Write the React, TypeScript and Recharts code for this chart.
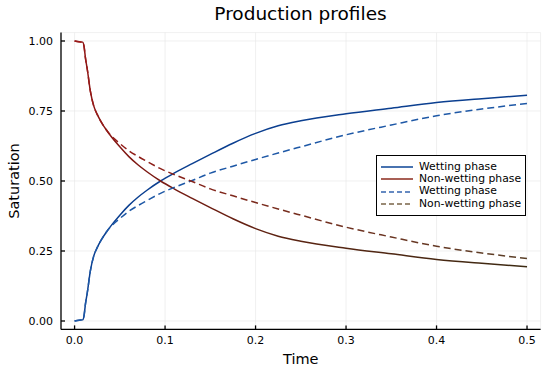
import React from 'react';
import { LineChart, Line, XAxis, YAxis, CartesianGrid, Legend } from 'recharts';

const times = [0, 0.005, 0.009, 0.0105, 0.012, 0.014, 0.0175, 0.021, 0.025, 0.03, 0.035, 0.04, 0.05, 0.06, 0.07, 0.08, 0.095, 0.11, 0.13, 0.15, 0.175, 0.2, 0.225, 0.25, 0.3, 0.35, 0.4, 0.45, 0.5];
const wettingA = [0, 0.003, 0.004, 0.02, 0.06, 0.10, 0.18, 0.23, 0.262, 0.292, 0.317, 0.339, 0.378, 0.413, 0.442, 0.467, 0.50, 0.528, 0.562, 0.595, 0.635, 0.670, 0.697, 0.715, 0.740, 0.760, 0.780, 0.794, 0.806];
const nonWettingA = [1, 0.997, 0.996, 0.98, 0.94, 0.90, 0.82, 0.77, 0.738, 0.708, 0.683, 0.661, 0.622, 0.587, 0.558, 0.533, 0.50, 0.472, 0.438, 0.405, 0.365, 0.330, 0.303, 0.285, 0.260, 0.240, 0.220, 0.206, 0.194];
const wettingB = [0, 0.003, 0.004, 0.02, 0.06, 0.10, 0.18, 0.23, 0.262, 0.292, 0.317, 0.337, 0.366, 0.392, 0.412, 0.43, 0.456, 0.477, 0.502, 0.528, 0.553, 0.577, 0.60, 0.622, 0.665, 0.70, 0.733, 0.757, 0.777];
const nonWettingB = [1, 0.997, 0.996, 0.98, 0.94, 0.90, 0.82, 0.77, 0.738, 0.708, 0.683, 0.663, 0.634, 0.608, 0.588, 0.57, 0.544, 0.523, 0.498, 0.472, 0.447, 0.423, 0.40, 0.378, 0.335, 0.30, 0.267, 0.243, 0.223];

const xTicks = [0, 0.1, 0.2, 0.3, 0.4, 0.5];
const yTicks = [0, 0.25, 0.5, 0.75, 1];
const seriesNames = ['Wetting phase', 'Non-wetting phase', 'Wetting phase', 'Non-wetting phase'];

const data = times.map((t, i) => ({
  t,
  wA: wettingA[i],
  nA: nonWettingA[i],
  wB: wettingB[i],
  nB: nonWettingB[i],
}));

const FONT = '"DejaVu Sans", sans-serif';

const legendItems = [
  { name: seriesNames[0], color: '#0b4596', dash: undefined },
  { name: seriesNames[1], color: '#8b2a1c', dash: undefined },
  { name: seriesNames[2], color: '#3464ae', dash: '5 3' },
  { name: seriesNames[3], color: '#7a6448', dash: '5 3' },
];

const LegendBox = () => (
  <div style={{ border: '1px solid #000', background: '#fff', padding: '5px 4px 5px 4px', fontFamily: FONT, fontSize: 10.8, lineHeight: '12.2px', color: '#000' }}>
    {legendItems.map((it, i) => (
      <div key={i} style={{ display: 'flex', alignItems: 'center', whiteSpace: 'nowrap' }}>
        <svg width={32} height={8} style={{ marginRight: 6 }}>
          <line x1={0} y1={4} x2={32} y2={4} stroke={it.color} strokeWidth={1.5} strokeDasharray={it.dash} />
        </svg>
        <span>{it.name}</span>
      </div>
    ))}
  </div>
);

export default function App() {
  return (
    <div style={{ position: 'absolute', left: 0, top: 0, width: 550, height: 373, background: '#fff' }}>
      <div style={{ position: 'absolute', left: 0, top: 3, width: 550, textAlign: 'center', paddingLeft: 51, boxSizing: 'border-box', fontFamily: FONT, fontSize: 18.5, color: '#000' }}>
        Production profiles
      </div>
      <LineChart width={550} height={373} data={data} margin={{ top: 32.6, right: 9.4, bottom: 13.6, left: 11 }}>
        <defs>
          <linearGradient id="gradNA" x1="0" y1="0" x2="1" y2="0">
            <stop offset="0%" stopColor="#8e1414" />
            <stop offset="45%" stopColor="#5c2312" />
            <stop offset="100%" stopColor="#3c2a12" />
          </linearGradient>
          <linearGradient id="gradNB" x1="0" y1="0" x2="1" y2="0">
            <stop offset="0%" stopColor="#9a1818" />
            <stop offset="40%" stopColor="#7a2a1c" />
            <stop offset="100%" stopColor="#5a4028" />
          </linearGradient>
        </defs>
        <CartesianGrid stroke="#e6e6e6" strokeWidth={0.6} />
        <XAxis
          dataKey="t"
          type="number"
          domain={[-0.015, 0.515]}
          ticks={xTicks}
          tickFormatter={(v: number) => v.toFixed(1)}
          allowDataOverflow
          height={30}
          tickSize={-4}
          tickMargin={11}
          stroke="#000"
          strokeWidth={1.3}
          tick={{ fill: '#000', fontSize: 11, fontFamily: FONT }}
          label={{ value: 'Time', position: 'insideBottom', offset: -5, fill: '#000', fontSize: 14.5, fontFamily: FONT }}
        />
        <YAxis
          type="number"
          domain={[-0.03, 1.03]}
          ticks={yTicks}
          tickFormatter={(v: number) => v.toFixed(2)}
          allowDataOverflow
          width={50}
          tickSize={-4}
          tickMargin={12}
          stroke="#000"
          strokeWidth={1.3}
          tick={{ fill: '#000', fontSize: 11, fontFamily: FONT }}
          label={{ value: 'Saturation', angle: -90, position: 'insideLeft', offset: 3, fill: '#000', fontSize: 14.5, fontFamily: FONT, style: { textAnchor: 'middle' } }}
        />
        <Legend
          layout="horizontal"
          verticalAlign="middle"
          align="center"
          content={() => <LegendBox />}
          wrapperStyle={{ left: 376, top: 155, width: 'auto' }}
        />
        <Line dataKey="wA" name={seriesNames[0]} stroke="#0b3f90" strokeWidth={1.5} dot={false} isAnimationActive={false} type="monotone" />
        <Line dataKey="nA" name={seriesNames[1]} stroke="url(#gradNA)" strokeWidth={1.5} dot={false} isAnimationActive={false} type="monotone" />
        <Line dataKey="wB" name={seriesNames[2]} stroke="#1e58a6" strokeWidth={1.5} strokeDasharray="7 4" dot={false} isAnimationActive={false} type="monotone" />
        <Line dataKey="nB" name={seriesNames[3]} stroke="url(#gradNB)" strokeWidth={1.5} strokeDasharray="7 4" dot={false} isAnimationActive={false} type="monotone" />
      </LineChart>
    </div>
  );
}
